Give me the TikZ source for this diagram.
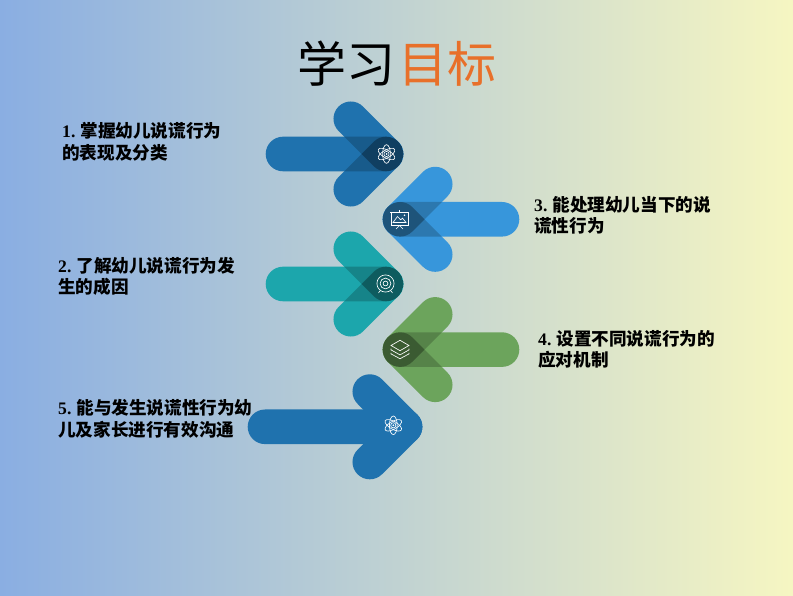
\documentclass[tikz,border=0pt]{standalone}
\usepackage{fontspec}
\newfontfamily\cjk{Noto Sans CJK SC}
\newfontfamily\num{Liberation Serif}
\definecolor{bgl}{HTML}{8AAEE2}
\definecolor{bgr}{HTML}{F6F6C2}
\definecolor{cblue}{HTML}{1F72AE}
\definecolor{clight}{HTML}{3796DB}
\definecolor{cteal}{HTML}{1CA6AC}
\definecolor{cgreen}{HTML}{6CA45C}
\definecolor{corange}{HTML}{E8702A}
\tikzset{
  x=1pt,y=1pt,
  icon/.style={draw=white,line width=.65pt,fill=none},
  label/.style={anchor=west,inner sep=0pt,font=\cjk\bfseries\fontsize{17.6}{21}\selectfont,text=black},
  titletext/.style={inner sep=0pt,font=\cjk\fontsize{49}{49}\selectfont},
}
\newcommand{\pathdiag}{(-67.1,-17.3) rectangle (17.3,17.3)}
% #1 x, #2 y (from top), #3 direction, #4 colour, #5 bar length
\newcommand{\arrowbase}[5]{%
  \begin{scope}[shift={(#1,595-#2)},xscale=#3,rounded corners=17.3pt]
    \fill[#4] (-#5-17.3,-17.3) rectangle (17.3,17.3);
    \fill[#4,rotate=-45] \pathdiag;
    \fill[#4,rotate=45] \pathdiag;
  \end{scope}}
\newcommand{\arrowover}[5]{%
  \arrowbase{#1}{#2}{#3}{#4}{#5}%
  \begin{scope}[shift={(#1,595-#2)},xscale=#3]
    \begin{scope}
      \clip[rounded corners=17.3pt] (-#5-17.3,-17.3) rectangle (17.3,17.3);
      \fill[black,opacity=.2,rounded corners=17.3pt,rotate=-45] \pathdiag;
      \fill[black,opacity=.2,rounded corners=17.3pt,rotate=45] \pathdiag;
    \end{scope}
    \begin{scope}
      \clip[rounded corners=17.3pt,rotate=-45] \pathdiag;
      \fill[black,opacity=.12,rounded corners=17.3pt,rotate=45] \pathdiag;
    \end{scope}
  \end{scope}}
\newcommand{\atomicon}[2]{%
  \begin{scope}[shift={(#1,595-#2)}]
    \draw[icon] (0,0) ellipse [x radius=9.3,y radius=3.9,rotate=90];
    \draw[icon] (0,0) ellipse [x radius=9.3,y radius=3.9,rotate=30];
    \draw[icon] (0,0) ellipse [x radius=9.3,y radius=3.9,rotate=150];
    \draw[icon] (0,0) circle (2.6);
    \fill[white] (0,0) circle (1);
  \end{scope}}
\begin{document}
\begin{tikzpicture}
\useasboundingbox (0,0) rectangle (793,595);
\shade[left color=bgl,right color=bgr,middle color=bgl!50!bgr] (0,0) rectangle (793,595);

% title
\node[titletext,text=black] (titlea) at (346.5,595-63.5) {学习};
\node[titletext,text=corange] (titleb) at (447.5,595-63.5) {目标};

% arrows
\arrowover{386}{154}{1}{cblue}{103}
\arrowover{400}{219.3}{-1}{clight}{102}
\arrowover{386}{284}{1}{cteal}{103}
\arrowover{400}{349.6}{-1}{cgreen}{102}
\arrowbase{405}{426.8}{1}{cblue}{140}

% icons
\atomicon{386.5}{154}
\atomicon{393.3}{425.3}

% board icon
\begin{scope}[shift={(399.5,595-219)}]
  \draw[icon] (-9.5,7) -- (9.5,7);
  \draw[icon] (-8.5,7) rectangle (8.5,-6.5);
  \draw[icon] (-6.5,-3.5) -- (-2,2.5) -- (1.2,-.8) -- (3,.8) -- (6.5,-3.5) -- cycle;
  \fill[white] (5,3.8) circle (.9);
  \draw[icon] (0,7) -- (0,8.8);
  \draw[icon] (0,-6.5) -- (-3.5,-10);
  \draw[icon] (0,-6.5) -- (3.5,-10);
\end{scope}

% target icon
\begin{scope}[shift={(385.5,595-283.5)}]
  \draw[icon] (0,0) circle (8.6);
  \draw[icon] (0,0) circle (5.4);
  \draw[icon] (0,0) circle (2.4);
  \draw[icon] (-5,-7) -- (-7,-9.3);
  \draw[icon] (5,-7) -- (7,-9.3);
\end{scope}

% layers icon
\begin{scope}[shift={(400,595-349.3)}]
  \draw[icon] (-9,3.8) -- (0,9) -- (9,3.8) -- (0,-1.4) -- cycle;
  \draw[icon] (-9,.6) -- (-9,-.6) -- (0,-5.6) -- (9,-.6) -- (9,.6);
  \draw[icon] (-9,-3.6) -- (-9,-4.6) -- (0,-9.4) -- (9,-4.6) -- (9,-3.6);
\end{scope}

% labels
\node[label] (la1) at (62,595-131) {{\num\bfseries 1.}\hspace{5pt}掌握幼儿说谎行为};
\node[label] (la2) at (62,595-152.5) {的表现及分类};
\node[label] (lb1) at (58,595-265.5) {{\num\bfseries 2.}\hspace{5pt}了解幼儿说谎行为发};
\node[label] (lb2) at (58,595-287) {生的成因};
\node[label] (lc1) at (534,595-204.5) {{\num\bfseries 3.}\hspace{5pt}能处理幼儿当下的说};
\node[label] (lc2) at (534,595-226) {谎性行为};
\node[label] (ld1) at (538,595-338.5) {{\num\bfseries 4.}\hspace{5pt}设置不同说谎行为的};
\node[label] (ld2) at (538,595-360) {应对机制};
\node[label] (le1) at (58,595-408) {{\num\bfseries 5.}\hspace{5pt}能与发生说谎性行为幼};
\node[label] (le2) at (58,595-430) {儿及家长进行有效沟通};
\end{tikzpicture}
\end{document}
